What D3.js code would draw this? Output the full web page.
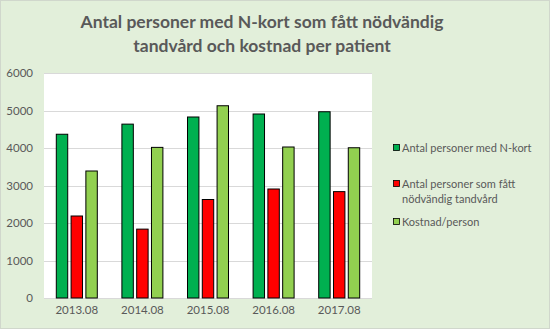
<!DOCTYPE html>
<html><head><meta charset="utf-8">
<script src="https://cdn.jsdelivr.net/npm/d3@7"></script>
<style>
html,body{margin:0;padding:0;background:#fff;}
svg{display:block;}
text{font-family:Lato,"Open Sans",sans-serif;}
</style></head>
<body><svg id="c" width="550" height="329"></svg>
<script>
const categories = ["2013.08","2014.08","2015.08","2016.08","2017.08"];
const seriesNames = ["Antal personer med N-kort","Antal personer som fått nödvändig tandvård","Kostnad/person"];
const nkort = [4380,4650,4840,4920,4980];
const tandvard = [2200,1850,2640,2920,2850];
const kostnad = [3400,4030,5140,4040,4020];
const yTicks = [0,1000,2000,3000,4000,5000,6000];
const titleLines = ["Antal personer med N-kort som fått nödvändig","tandvård och kostnad per patient"];
const legendLines = [["Antal personer med N-kort"],["Antal personer som fått","nödvändig tandvård"],["Kostnad/person"]];
const colors = ["#00B050","#FF0000","#92D050"];
const series = [nkort,tandvard,kostnad];

const svg = d3.select("#c");
svg.append("rect").attr("x",0.5).attr("y",0.5).attr("width",549).attr("height",328)
  .attr("fill","#E2EFDA").attr("stroke","#D0D7CC");

const plot = {l:44,r:372,t:73,b:298};
svg.append("rect").attr("x",plot.l).attr("y",plot.t).attr("width",plot.r-plot.l).attr("height",plot.b-plot.t).attr("fill","#fff");

const x = d3.scaleBand().domain(categories).range([plot.l,plot.r]).paddingInner(0).paddingOuter(0);
const y = d3.scaleLinear().domain([0,6000]).range([plot.b,plot.t]);
const inner = d3.scaleBand().domain(d3.range(3)).range([0,42]).paddingInner(0.16);

// gridlines
svg.append("g").selectAll("line").data(yTicks.filter(d=>d>0)).join("line")
  .attr("x1",plot.l).attr("x2",plot.r).attr("y1",d=>Math.round(y(d))+0.5).attr("y2",d=>Math.round(y(d))+0.5)
  .attr("stroke","#D9D9D9").attr("stroke-width",1);

// y axis labels
const yAxis = d3.axisLeft(y).tickValues(yTicks).tickFormat(d3.format("d")).tickSize(0).tickPadding(0);
const ya = svg.append("g").attr("transform",`translate(33,0)`).call(yAxis);
ya.select(".domain").remove();
ya.selectAll("text").attr("fill","#595959").style("font-size","11.5px").style("font-family","Lato,sans-serif");

// x axis labels
const xAxis = d3.axisBottom(x).tickSize(0).tickPadding(0);
const xa = svg.append("g").attr("transform",`translate(0,306)`).call(xAxis);
xa.select(".domain").remove();
xa.selectAll("text").attr("fill","#595959").style("font-size","11.5px").style("font-family","Lato,sans-serif");

// baseline axis
svg.append("line").attr("x1",plot.l).attr("x2",plot.r).attr("y1",plot.b+0.5).attr("y2",plot.b+0.5).attr("stroke","#D9D9D9");

// bars
series.forEach((vals,si)=>{
  svg.append("g").selectAll("rect").data(vals).join("rect")
    .attr("x",(d,i)=>x(categories[i])+x.bandwidth()/2-21+inner(si)+0.5)
    .attr("y",d=>y(d)+0.5)
    .attr("width",inner.bandwidth()-1)
    .attr("height",d=>y(0)-y(d)-0.5)
    .attr("fill",colors[si]).attr("stroke","#000").attr("stroke-width",1);
});

// title
svg.append("g").selectAll("text").data(titleLines).join("text")
  .attr("x",262).attr("y",(d,i)=>28+i*24).attr("text-anchor","middle")
  .attr("fill","#595959").style("font-size","17.5px").style("font-weight","bold").text(d=>d);

// legend
const legY = [148,184,222];
legendLines.forEach((lines,i)=>{
  svg.append("rect").attr("x",393.5).attr("y",legY[i]-3.5).attr("width",6).attr("height",6)
    .attr("fill",colors[i]).attr("stroke","#000").attr("stroke-width",0.8);
  lines.forEach((t,j)=>{
    svg.append("text").attr("x",402).attr("y",legY[i]+4+j*15).attr("fill","#595959")
      .style("font-size","11px").text(t);
  });
});
</script></body></html>
